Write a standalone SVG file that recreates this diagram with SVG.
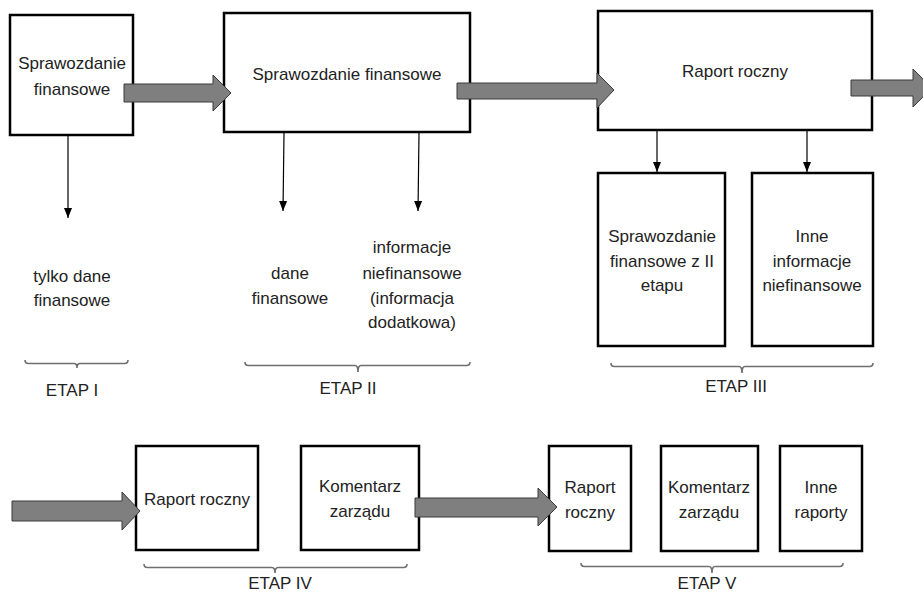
<svg xmlns="http://www.w3.org/2000/svg" width="923" height="595" viewBox="0 0 923 595">
<defs>
<style>
.box{fill:#fff;stroke:#000;stroke-width:2.5}
.t{font-family:"Liberation Sans",Arial,sans-serif;font-size:17px;fill:#222;text-anchor:middle}
.big{fill:#7f7f7f;stroke:#3a3a3a;stroke-width:1}
.thin{stroke:#000;stroke-width:1.2;fill:none}
.brace{fill:none;stroke:#6f6f6f;stroke-width:1.6}
</style>
<marker id="ah" viewBox="0 0 10 10" refX="10" refY="5" markerWidth="10" markerHeight="10" markerUnits="userSpaceOnUse" orient="auto">
<path d="M0,1 L10,5 L0,9 Z" fill="#000"/>
</marker>
</defs>
<rect width="923" height="595" fill="#fff"/>

<g id="n1">
<rect class="box" x="10" y="15" width="123" height="120"/>
<text class="t" x="72" y="69">Sprawozdanie</text>
<text class="t" x="72" y="95">finansowe</text>
</g>
<g id="n2">
<rect class="box" x="224" y="13" width="246" height="119"/>
<text class="t" x="347" y="80">Sprawozdanie finansowe</text>
</g>
<g id="n3">
<rect class="box" x="598" y="11" width="274" height="119"/>
<text class="t" x="735" y="77">Raport roczny</text>
</g>
<g id="n3a">
<rect class="box" x="598" y="173" width="127" height="173"/>
<text class="t" x="662" y="242">Sprawozdanie</text>
<text class="t" x="662" y="267">finansowe z II</text>
<text class="t" x="662" y="291">etapu</text>
</g>
<g id="n3b">
<rect class="box" x="752" y="173" width="121" height="173"/>
<text class="t" x="812" y="242">Inne</text>
<text class="t" x="812" y="267">informacje</text>
<text class="t" x="812" y="291">niefinansowe</text>
</g>
<g id="l1">
<text class="t" x="72" y="282">tylko dane</text>
<text class="t" x="72" y="306">finansowe</text>
</g>
<g id="l2a">
<text class="t" x="290" y="279">dane</text>
<text class="t" x="290" y="304">finansowe</text>
</g>
<g id="l2b">
<text class="t" x="412" y="253">informacje</text>
<text class="t" x="412" y="279">niefinansowe</text>
<text class="t" x="412" y="304">(informacja</text>
<text class="t" x="412" y="328">dodatkowa)</text>
</g>

<g id="n4a">
<rect class="box" x="136" y="446" width="122" height="104"/>
<text class="t" x="197" y="505">Raport roczny</text>
</g>
<g id="n4b">
<rect class="box" x="301" y="446" width="118" height="104"/>
<text class="t" x="360" y="492">Komentarz</text>
<text class="t" x="360" y="517">zarządu</text>
</g>
<g id="n5a">
<rect class="box" x="549" y="446" width="82" height="105"/>
<text class="t" x="590" y="493">Raport</text>
<text class="t" x="590" y="518">roczny</text>
</g>
<g id="n5b">
<rect class="box" x="661" y="446" width="97" height="105"/>
<text class="t" x="709" y="493">Komentarz</text>
<text class="t" x="709" y="518">zarządu</text>
</g>
<g id="n5c">
<rect class="box" x="780" y="446" width="82" height="105"/>
<text class="t" x="821" y="493">Inne</text>
<text class="t" x="821" y="518">raporty</text>
</g>

<g id="etap1">
<path class="brace" d="M25,360 Q25,363.5 28.5,363.5 H74 Q77,363.5 77,368 Q77,363.5 80,363.5 H124.5 Q128,363.5 128,360"/>
<text class="t" x="72" y="396">ETAP I</text>
</g>
<g id="etap2">
<path class="brace" d="M245,362 Q245,365.5 248.5,365.5 H355 Q358,365.5 358,372 Q358,365.5 361,365.5 H466.5 Q470,365.5 470,362"/>
<text class="t" x="348" y="394">ETAP II</text>
</g>
<g id="etap3">
<path class="brace" d="M611,363 Q611,366.5 614.5,366.5 H739 Q742,366.5 742,373 Q742,366.5 745,366.5 H869.5 Q873,366.5 873,363"/>
<text class="t" x="736" y="392">ETAP III</text>
</g>
<g id="etap4">
<path class="brace" d="M144,564 Q144,567.5 147.5,567.5 H272 Q275,567.5 275,573 Q275,567.5 278,567.5 H403.5 Q407,567.5 407,564"/>
<text class="t" x="280" y="589">ETAP IV</text>
</g>
<g id="etap5">
<path class="brace" d="M581,563 Q581,566.5 584.5,566.5 H709 Q712,566.5 712,573 Q712,566.5 715,566.5 H839.5 Q843,566.5 843,563"/>
<text class="t" x="707" y="589">ETAP V</text>
</g>

<g id="connectors">
<path class="big" d="M124,84 H213 V75 L231,93 L213,111 V102 H124 Z"/>
<path class="big" d="M457,83 H597 V73 L614,90 L597,108 V99 H457 Z"/>
<path class="big" d="M851,80 H913 V69 L932,88 L913,107 V96 H851 Z"/>
<path class="big" d="M12,501 H122 V492 L140,511 L122,530 V521 H12 Z"/>
<path class="big" d="M415,498 H538 V488 L557,507 L538,526 V517 H415 Z"/>
<line class="thin" x1="68" y1="136" x2="68" y2="218" marker-end="url(#ah)"/>
<line class="thin" x1="284" y1="133" x2="283" y2="211" marker-end="url(#ah)"/>
<line class="thin" x1="419" y1="133" x2="418" y2="211" marker-end="url(#ah)"/>
<line class="thin" x1="657" y1="131" x2="657" y2="172" marker-end="url(#ah)"/>
<line class="thin" x1="807" y1="131" x2="807" y2="172" marker-end="url(#ah)"/>
</g>
</svg>
